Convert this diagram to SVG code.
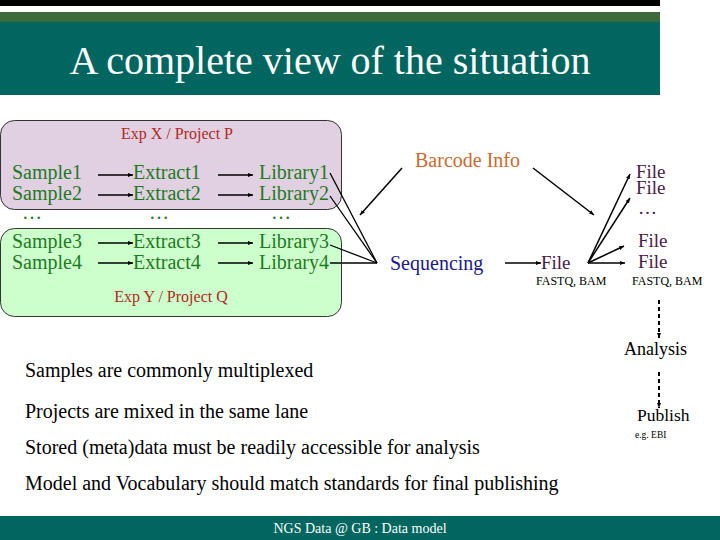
<svg xmlns="http://www.w3.org/2000/svg" width="720" height="540" viewBox="0 0 720 540">
<defs>
<marker id="ah" viewBox="0 0 10 10" refX="10" refY="5" markerWidth="5" markerHeight="5" orient="auto" markerUnits="userSpaceOnUse"><path d="M0,1 L10,5 L0,9 z" fill="#000"/></marker>
<style>
text{font-family:"Liberation Serif","Times New Roman","DejaVu Serif",serif;}
.g{fill:#1e7a1e;font-size:20px;}
.red{fill:#b02a1e;font-size:16px;}
.f{fill:#4a1a4a;font-size:19px;}
.sm{fill:#000;font-size:12px;}
.b{fill:#000;font-size:20px;}
.c{stroke:#000;fill:none;stroke-width:1.3;}
.ar{stroke:#000;fill:none;stroke-width:1.5;marker-end:url(#ah);}
.dash{stroke:#000;fill:none;stroke-width:2;stroke-dasharray:4,3;marker-end:url(#ah);}
</style>
</defs>
<rect x="0" y="0" width="720" height="540" fill="#fff"/>
<rect x="0" y="0" width="660" height="6" fill="#000"/>
<rect x="0" y="12" width="660" height="10" fill="#3d6a3a"/>
<rect x="0" y="22" width="660" height="73" fill="#00665f"/>
<text x="330" y="74" text-anchor="middle" font-size="40" fill="#fff">A complete view of the situation</text>

<g id="expX">
<rect x="0.5" y="120.5" width="341" height="89" rx="14" fill="#e0d0e2" stroke="#333" stroke-width="1"/>
<text class="red" x="177" y="139" text-anchor="middle">Exp X / Project P</text>
</g>
<g id="expY">
<rect x="0.5" y="228.5" width="341" height="88" rx="14" fill="#ccffcc" stroke="#333" stroke-width="1"/>
<text class="red" x="171" y="302" text-anchor="middle">Exp Y / Project Q</text>
</g>

<g id="samples">
<text class="g" x="12" y="179">Sample1</text>
<text class="g" x="12" y="200">Sample2</text>
<text class="g" x="22" y="219">…</text>
<text class="g" x="12" y="248">Sample3</text>
<text class="g" x="12" y="269">Sample4</text>
</g>
<g id="extracts">
<text class="g" x="133" y="179">Extract1</text>
<text class="g" x="133" y="200">Extract2</text>
<text class="g" x="149" y="219">…</text>
<text class="g" x="133" y="248">Extract3</text>
<text class="g" x="133" y="269">Extract4</text>
</g>
<g id="libraries">
<text class="g" x="259" y="179">Library1</text>
<text class="g" x="259" y="200">Library2</text>
<text class="g" x="271" y="219">…</text>
<text class="g" x="259" y="248">Library3</text>
<text class="g" x="259" y="269">Library4</text>
</g>
<g id="barcode"><text x="415" y="167" font-size="20" fill="#cc6a30">Barcode Info</text></g>
<g id="sequencing"><text x="390" y="270" font-size="20" fill="#1a1a8c">Sequencing</text></g>
<g id="file1">
<text class="f" x="541" y="269">File</text>
<text class="sm" x="536" y="285">FASTQ, BAM</text>
</g>
<g id="files2">
<text class="f" x="636" y="178">File</text>
<text class="f" x="636" y="194">File</text>
<text class="f" x="638" y="214">…</text>
<text class="f" x="638" y="247">File</text>
<text class="f" x="638" y="268">File</text>
<text class="sm" x="632" y="285">FASTQ, BAM</text>
</g>
<g id="analysis"><text x="624" y="355" font-size="18" fill="#000">Analysis</text></g>
<g id="publish">
<text x="637" y="421" font-size="17.5" fill="#000">Publish</text>
<text x="635" y="438" font-size="9.5" fill="#000">e.g. EBI</text>
</g>
<g id="notes">
<text class="b" x="25" y="377">Samples are commonly multiplexed</text>
<text class="b" x="25" y="418">Projects are mixed in the same lane</text>
<text class="b" x="25" y="454">Stored (meta)data must be readily accessible for analysis</text>
<text class="b" x="25" y="490">Model and Vocabulary should match standards for final publishing</text>
</g>

<g id="connectors">
<line class="ar" x1="98" y1="175" x2="133" y2="175"/>
<line class="ar" x1="98" y1="195" x2="133" y2="195"/>
<line class="ar" x1="98" y1="243" x2="133" y2="243"/>
<line class="ar" x1="98" y1="263" x2="133" y2="263"/>
<line class="ar" x1="218" y1="175" x2="253" y2="175"/>
<line class="ar" x1="218" y1="195" x2="253" y2="195"/>
<line class="ar" x1="218" y1="243" x2="253" y2="243"/>
<line class="ar" x1="218" y1="263" x2="253" y2="263"/>
<line class="c" x1="330" y1="173" x2="377" y2="263"/>
<line class="c" x1="330" y1="196" x2="377" y2="263"/>
<line class="c" x1="330" y1="245" x2="377" y2="263"/>
<line class="c" x1="330" y1="263" x2="377" y2="263"/>
<line class="ar" x1="402" y1="168" x2="360" y2="215"/>
<line class="ar" x1="533" y1="168" x2="594" y2="215"/>
<line class="ar" x1="505" y1="263" x2="541" y2="263"/>
<line class="ar" x1="588" y1="263" x2="630" y2="174"/>
<line class="ar" x1="588" y1="263" x2="630" y2="198"/>
<line class="ar" x1="588" y1="263" x2="624" y2="246"/>
<line class="ar" x1="588" y1="263" x2="625" y2="263"/>
<line class="dash" x1="659" y1="300" x2="659" y2="338"/>
<line class="dash" x1="659" y1="372" x2="659" y2="408"/>
</g>

<rect x="0" y="516" width="720" height="24" fill="#00665f"/>
<text x="360" y="533" text-anchor="middle" font-size="14" fill="#fff">NGS Data @ GB : Data model</text>
</svg>
